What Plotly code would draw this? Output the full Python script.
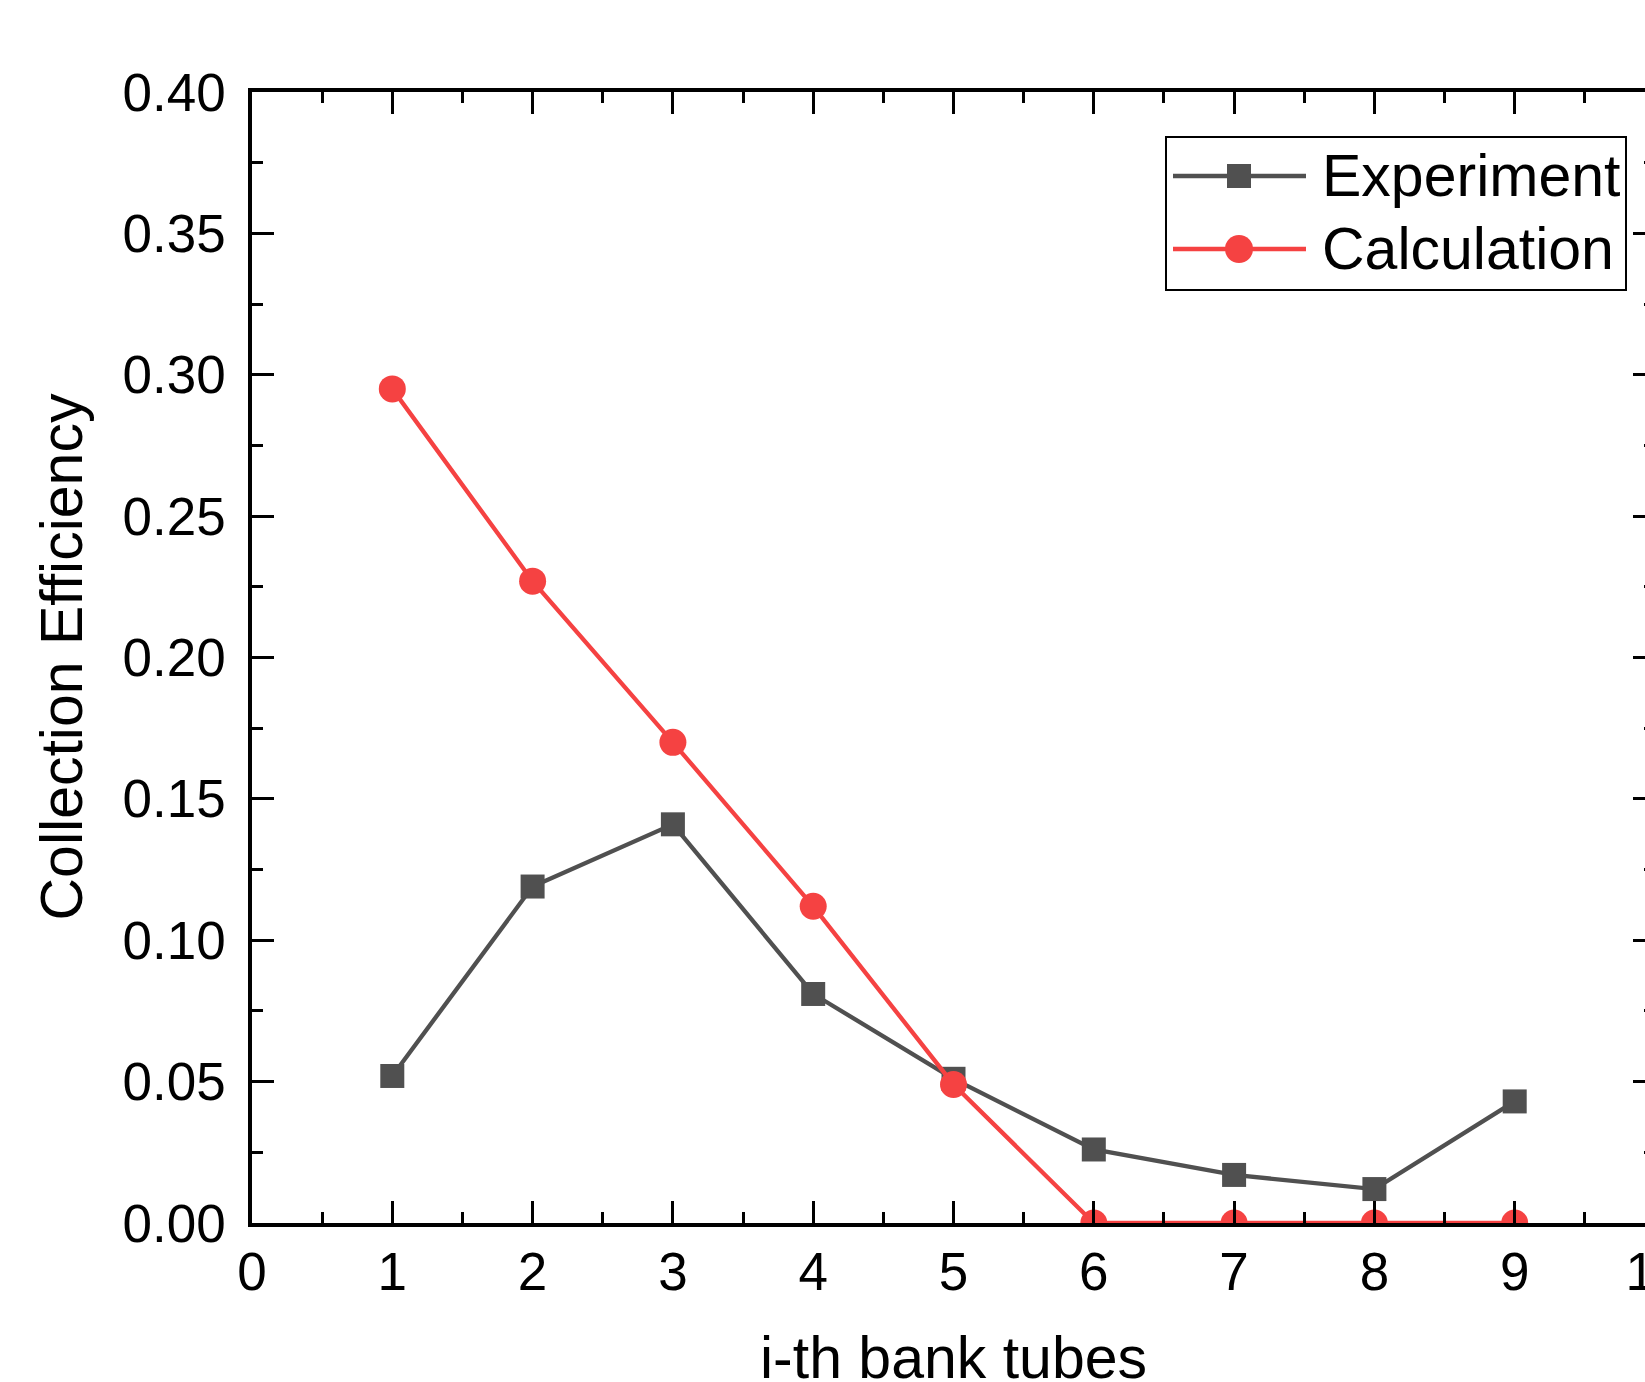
import plotly.graph_objects as go

# ---------------- data ----------------
x_tubes = [1, 2, 3, 4, 5, 6, 7, 8, 9]
experiment = [0.052, 0.119, 0.141, 0.081, 0.051, 0.026, 0.017, 0.012, 0.043]
calculation = [0.295, 0.227, 0.170, 0.112, 0.049, 0.0, 0.0, 0.0, 0.0]
series_names = ["Experiment", "Calculation"]
x_ticks = [0, 1, 2, 3, 4, 5, 6, 7, 8, 9, 10]
y_ticks = [0.00, 0.05, 0.10, 0.15, 0.20, 0.25, 0.30, 0.35, 0.40]
x_title = "i-th bank tubes"
y_title = "Collection Efficiency"

# ---------------- layout constants (pixels) ----------------
W, H = 1690, 1382
PL, PR, PT, PB = 252, 1655, 92, 1223          # plot area edges
ML, MR, MT, MB = PL, W - PR, PT, H - PB

GRAY = "#505050"
RED = "#F54242"
FONT = "Arial, Liberation Sans, sans-serif"


def px(xp):
    return (xp - PL) / (PR - PL)


def py(yp):
    return (PB - yp) / (PB - PT)


fig = go.Figure()
fig.add_trace(go.Scatter(
    x=x_tubes, y=experiment, mode="lines+markers", name=series_names[0],
    line=dict(color=GRAY, width=4.3),
    marker=dict(symbol="square", size=24, color=GRAY, line=dict(width=0)),
    showlegend=False, cliponaxis=True))
fig.add_trace(go.Scatter(
    x=x_tubes, y=calculation, mode="lines+markers", name=series_names[1],
    line=dict(color=RED, width=4.3),
    marker=dict(symbol="circle", size=27, color=RED, line=dict(width=0)),
    showlegend=False, cliponaxis=True))

axis_common = dict(
    ticks="inside", ticklen=22, tickwidth=3.3, tickcolor="black",
    showline=True, linecolor="black", linewidth=3.5, mirror="ticks",
    showgrid=False, zeroline=False, automargin=False,
    tickfont=dict(family=FONT, size=53, color="black"),
)

fig.update_xaxes(
    range=[0, 10], tickmode="array", tickvals=x_ticks,
    ticktext=[str(v) for v in x_ticks],
    minor=dict(dtick=0.5, tick0=0, ticks="inside", ticklen=11, tickwidth=3.3,
               tickcolor="black", showgrid=False),
    ticklabelstandoff=0,
    **axis_common)
fig.update_yaxes(
    range=[0, 0.4], tickmode="array", tickvals=y_ticks,
    ticktext=["%.2f" % v for v in y_ticks],
    minor=dict(dtick=0.025, tick0=0, ticks="inside", ticklen=11, tickwidth=3.3,
               tickcolor="black", showgrid=False),
    ticklabelstandoff=12,
    **axis_common)

# ---------------- legend (drawn in paper coords) ----------------
LX0, LX1, LY0, LY1 = 1166, 1626, 137, 290
rows = [176, 249]
seg_x0, seg_x1, sym_x, text_x = 1173, 1306, 1239, 1320

shapes = [dict(type="rect", xref="paper", yref="paper",
               x0=px(LX0), x1=px(LX1), y0=py(LY1), y1=py(LY0),
               line=dict(color="black", width=2), fillcolor="white", layer="above")]
colors = [GRAY, RED]
for ry, c in zip(rows, colors):
    shapes.append(dict(type="line", xref="paper", yref="paper",
                       x0=px(seg_x0), x1=px(seg_x1), y0=py(ry), y1=py(ry),
                       line=dict(color=c, width=4.3), layer="above"))
s = 12
shapes.append(dict(type="rect", xref="paper", yref="paper",
                   x0=px(sym_x - s), x1=px(sym_x + s),
                   y0=py(rows[0] + s), y1=py(rows[0] - s),
                   line=dict(width=0), fillcolor=GRAY, layer="above"))
r = 14
shapes.append(dict(type="circle", xref="paper", yref="paper",
                   x0=px(sym_x - r), x1=px(sym_x + r),
                   y0=py(rows[1] + r), y1=py(rows[1] - r),
                   line=dict(width=0), fillcolor=RED, layer="above"))

annotations = []
for ry, name in zip(rows, series_names):
    annotations.append(dict(xref="paper", yref="paper", x=px(text_x), y=py(ry),
                            xanchor="left", yanchor="middle", showarrow=False,
                            text=name, font=dict(family=FONT, size=59, color="black")))

# axis titles
annotations.append(dict(xref="paper", yref="paper", x=0.5, y=py(1358),
                        xanchor="center", yanchor="middle", showarrow=False,
                        text=x_title, font=dict(family=FONT, size=59, color="black")))
annotations.append(dict(xref="paper", yref="paper", x=px(61), y=0.5,
                        xanchor="center", yanchor="middle", showarrow=False,
                        textangle=-90,
                        text=y_title, font=dict(family=FONT, size=59, color="black")))

fig.update_layout(
    width=W, height=H,
    margin=dict(l=ML, r=MR, t=MT, b=MB, pad=0, autoexpand=False),
    paper_bgcolor="white", plot_bgcolor="white",
    font=dict(family=FONT, color="black"),
    shapes=shapes, annotations=annotations,
    showlegend=False,
)

fig.write_html(
    "out.html",
    config=dict(displayModeBar=False),
    post_script="document.body.style.margin='0';document.body.style.overflow='hidden';",
)
